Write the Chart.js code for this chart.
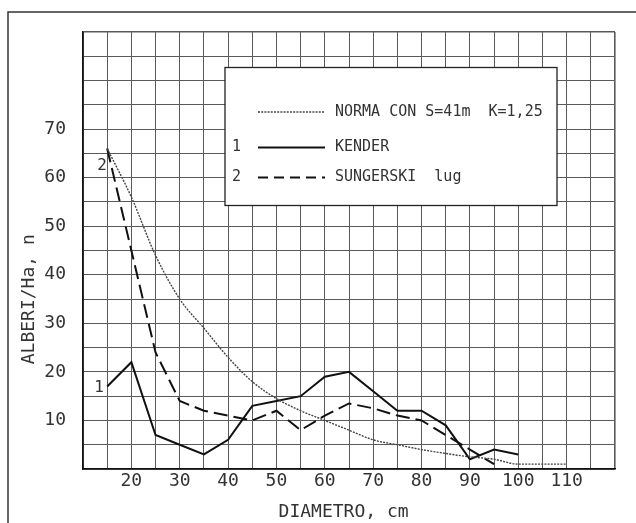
<!DOCTYPE html>
<html>
<head>
<meta charset="utf-8">
<title>Alberi/Ha</title>
<script src="https://cdn.jsdelivr.net/npm/chart.js@4/dist/chart.umd.min.js"></script>
<style>
  html, body { margin: 0; padding: 0; background: #fff; }
  #wrap { position: relative; width: 636px; height: 523px; }
</style>
</head>
<body>
<div id="wrap"><canvas id="chart"></canvas></div>
<script>
// --- data ---
const diameters = [15, 20, 25, 30, 35, 40, 45, 50, 55, 60, 65, 70, 75, 80, 85, 90, 95, 100, 105, 110];
const normaValues = [66, 56, 44, 35, 29, 23, 18, 14.5, 12, 10, 8, 6, 5, 4, 3.2, 2.5, 2, 1, 1, 1];
const kenderValues = [17, 22, 7, 5, 3, 6, 13, 14, 15, 19, 20, 16, 12, 12, 9, 2, 4, 3];
const sungerskiValues = [66, 45, 24, 14, 12, 11, 10, 12, 8, 11, 13.5, 12.5, 11, 10, 7, 4, 1];

const seriesNames = ['NORMA CON S=41m  K=1,25', 'KENDER', 'SUNGERSKI  lug'];
const seriesNumbers = ['', '1', '2'];
const xLabelTicks = [20, 30, 40, 50, 60, 70, 80, 90, 100, 110];
const yLabelTicks = [10, 20, 30, 40, 50, 60, 70];

const FONT = 'DejaVu Sans Mono';
const INK = '#333';

function toPoints(values) {
    return values.map((v, i) => ({ x: diameters[i], y: v }));
}

// line styles shared by the plot and the legend box
const styles = [
    { color: '#444', width: 1.4, dash: [2, 1.2] },
    { color: '#111', width: 2, dash: [] },
    { color: '#111', width: 2, dash: [14, 6] }
];

// --- page frame + white background ---
const framePlugin = {
    id: 'frame',
    beforeDraw(chart) {
        const ctx = chart.ctx;
        ctx.save();
        ctx.fillStyle = '#fff';
        ctx.fillRect(0, 0, chart.width, chart.height);
        ctx.strokeStyle = '#333';
        ctx.lineWidth = 1.5;
        ctx.beginPath();
        ctx.moveTo(8, chart.height);
        ctx.lineTo(8, 12);
        ctx.lineTo(chart.width, 12);
        ctx.stroke();
        ctx.restore();
    }
};

// --- legend box inside the plot ---
const legendBoxPlugin = {
    id: 'legendBox',
    beforeDatasetsDraw(chart) {
        const { ctx, chartArea: a } = chart;
        const x0 = a.left + 142, y0 = a.top + 35.5, w = 332, h = 138;
        ctx.save();
        ctx.fillStyle = '#fff';
        ctx.fillRect(x0, y0, w, h);
        ctx.strokeStyle = '#222';
        ctx.lineWidth = 1.3;
        ctx.strokeRect(x0, y0, w, h);

        const rows = [44.5, 80, 110];
        ctx.font = '15px "' + FONT + '"';
        ctx.textBaseline = 'middle';
        ctx.fillStyle = INK;
        chart.data.datasets.forEach((ds, i) => {
            const y = y0 + rows[i];
            const st = styles[i];
            ctx.strokeStyle = st.color;
            ctx.lineWidth = st.width;
            ctx.setLineDash(i === 2 ? [10, 6] : st.dash);
            ctx.beginPath();
            ctx.moveTo(x0 + 33, y);
            ctx.lineTo(x0 + 100, y);
            ctx.stroke();
            ctx.setLineDash([]);
            ctx.textAlign = 'left';
            ctx.fillText(ds.label, x0 + 110, y);
            if (seriesNumbers[i]) ctx.fillText(seriesNumbers[i], x0 + 7, y);
        });
        ctx.restore();
    },
    afterDatasetsDraw(chart) {
        // curve numbers next to the first points
        const ctx = chart.ctx;
        const p1 = chart.getDatasetMeta(1).data[0];
        const p2 = chart.getDatasetMeta(2).data[0];
        ctx.save();
        ctx.font = '16px "' + FONT + '"';
        ctx.fillStyle = INK;
        ctx.textAlign = 'center';
        ctx.textBaseline = 'middle';
        ctx.fillText('1', p1.x - 8, p1.y + 1);
        ctx.fillText('2', p2.x - 5, p2.y + 17);
        ctx.restore();
    }
};

const datasets = [normaValues, kenderValues, sungerskiValues].map((vals, i) => ({
    label: seriesNames[i],
    data: toPoints(vals),
    borderColor: styles[i].color,
    borderWidth: styles[i].width,
    borderDash: styles[i].dash,
    pointRadius: 0,
    fill: false,
    tension: 0,
    cubicInterpolationMode: i === 0 ? 'monotone' : 'default'
}));

const gridWidth = max => ctx => (ctx.tick && ctx.tick.value === max ? 1.6 : 1);

new Chart(document.getElementById('chart'), {
    type: 'line',
    data: { datasets },
    plugins: [framePlugin, legendBoxPlugin],
    options: {
        responsive: true,
        maintainAspectRatio: false,
        animation: false,
        devicePixelRatio: 1,
        layout: { padding: { left: 0, right: 21, top: 32, bottom: 0 } },
        plugins: { legend: { display: false }, tooltip: { enabled: false } },
        scales: {
            x: {
                type: 'linear',
                min: 10,
                max: 120,
                afterFit: s => { s.height = 54; },
                ticks: {
                    stepSize: 5,
                    autoSkip: false,
                    maxRotation: 0,
                    padding: 2,
                    color: INK,
                    font: { family: FONT, size: 18 },
                    callback: v => (xLabelTicks.includes(v) ? String(v) : '')
                },
                grid: { color: '#5a5a5a', lineWidth: gridWidth(120), drawTicks: false },
                border: { color: '#111', width: 1.6 },
                title: {
                    display: true,
                    text: 'DIAMETRO, cm ',
                    color: INK,
                    font: { family: FONT, size: 18 },
                    padding: { top: 0, bottom: 0 }
                }
            },
            y: {
                min: 0,
                max: 90,
                afterFit: s => { s.width = 83; },
                ticks: {
                    stepSize: 5,
                    autoSkip: false,
                    padding: 17,
                    color: INK,
                    font: { family: FONT, size: 18 },
                    callback: v => (yLabelTicks.includes(v) ? String(v) : '')
                },
                grid: { color: '#5a5a5a', lineWidth: gridWidth(90), drawTicks: false },
                border: { color: '#111', width: 1.6 },
                title: {
                    display: true,
                    // trailing spaces push the title below the axis centre, as in the original
                    text: 'ALBERI/Ha, n         ',
                    color: INK,
                    font: { family: FONT, size: 18 },
                    padding: { top: 19, bottom: 0 }
                }
            }
        }
    }
});
</script>
</body>
</html>
